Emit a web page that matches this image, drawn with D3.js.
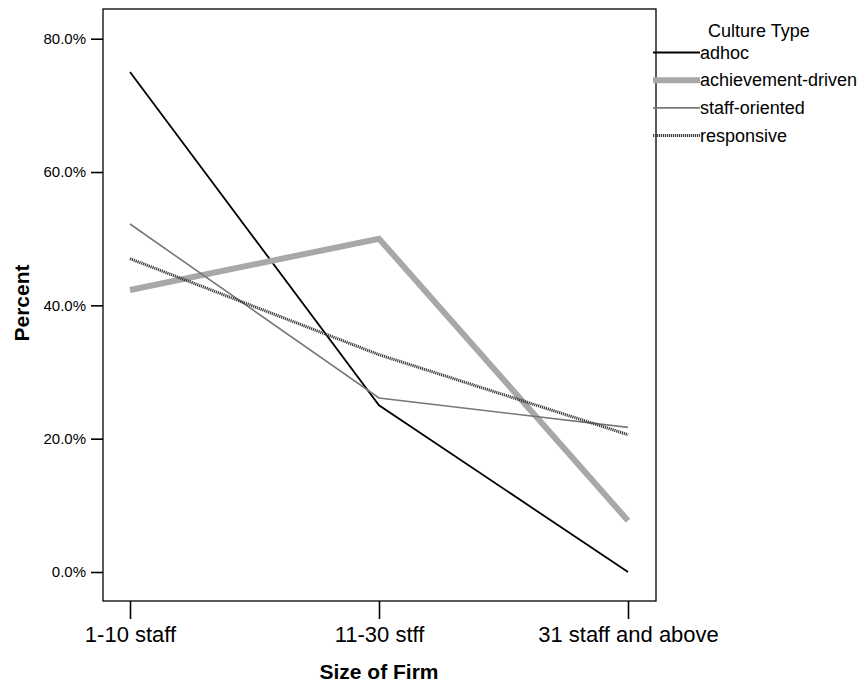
<!doctype html>
<html>
<head>
<meta charset="utf-8">
<title>Culture Type by Size of Firm</title>
<script src="https://cdnjs.cloudflare.com/ajax/libs/d3/7.8.5/d3.min.js"></script>
<style>
  body { margin: 0; background: #fff; }
  svg text { font-family: "Liberation Sans", Arial, sans-serif; fill: #000; }
</style>
</head>
<body>
<div id="chart-area"></div>
<script>
// Data
var sizes = ["1-10 staff", "11-30 stff", "31 staff and above"];
var cultureTypes = ["adhoc", "achievement-driven", "staff-oriented", "responsive"];
var adhoc = [75.0, 25.0, 0.0];
var achievementDriven = [42.3, 50.0, 7.7];
var staffOriented = [52.2, 26.1, 21.7];
var responsive = [47.0, 32.6, 20.6];
var yTicks = [0, 20, 40, 60, 80];

var seriesValues = [adhoc, achievementDriven, staffOriented, responsive];

// Line styles per culture type
var styles = {
  "adhoc": { stroke: "#000", width: 1.8, dash: null },
  "achievement-driven": { stroke: "#a8a8a8", width: 6, dash: null },
  "staff-oriented": { stroke: "#777", width: 1.6, dash: null },
  "responsive": { stroke: "#3c3c3c", width: 3, dash: "1.2,0.8" }
};

var W = 867, H = 685;
var box = { left: 103, right: 656, top: 9, bottom: 601 };

var svg = d3.select("#chart-area").append("svg")
  .attr("width", W)
  .attr("height", H);

// Scales
var x = d3.scalePoint().domain(sizes).range([130, 628]);
var y = d3.scaleLinear().domain([0, 80]).range([572, 38.7]);

// Plot frame
svg.append("rect")
  .attr("x", box.left)
  .attr("y", box.top)
  .attr("width", box.right - box.left)
  .attr("height", box.bottom - box.top)
  .attr("fill", "none")
  .attr("stroke", "#000")
  .attr("stroke-width", 1.3);

// Y axis
var yAxis = svg.append("g")
  .attr("transform", "translate(" + box.left + ",0)")
  .call(d3.axisLeft(y).tickValues(yTicks).tickSize(12).tickPadding(5)
    .tickFormat(function(d) { return d.toFixed(1) + "%"; }));
yAxis.select(".domain").remove();
yAxis.selectAll("line").attr("stroke-width", 1.6);
yAxis.selectAll("text")
  .attr("font-size", "15px")
  .attr("font-family", "Liberation Sans, Arial, sans-serif");

// X axis
var xAxis = svg.append("g")
  .attr("transform", "translate(0," + box.bottom + ")")
  .call(d3.axisBottom(x).tickSize(18).tickPadding(7));
xAxis.select(".domain").remove();
xAxis.selectAll("line").attr("stroke-width", 1.6);
xAxis.selectAll("text")
  .attr("font-size", "22px")
  .attr("font-family", "Liberation Sans, Arial, sans-serif");

// Axis titles
svg.append("text")
  .attr("transform", "translate(29,303) rotate(-90)")
  .attr("text-anchor", "middle")
  .attr("font-size", "21px")
  .attr("font-weight", "bold")
  .text("Percent");

svg.append("text")
  .attr("x", 379)
  .attr("y", 679)
  .attr("text-anchor", "middle")
  .attr("font-size", "21px")
  .attr("font-weight", "bold")
  .text("Size of Firm");

// Lines
var line = d3.line()
  .x(function(d, i) { return x(sizes[i]); })
  .y(function(d) { return y(d); });

cultureTypes.forEach(function(name, i) {
  var s = styles[name];
  svg.append("path")
    .attr("fill", "none")
    .attr("stroke", s.stroke)
    .attr("stroke-width", s.width)
    .attr("stroke-dasharray", s.dash)
    .attr("stroke-linejoin", "miter")
    .attr("d", line(seriesValues[i]));
});

// Legend
var legend = svg.append("g").attr("transform", "translate(653,0)");
legend.append("text")
  .attr("x", 55)
  .attr("y", 37)
  .attr("font-size", "18px")
  .text("Culture Type");

cultureTypes.forEach(function(name, i) {
  var s = styles[name];
  var ly = 52.5 + i * 27.7;
  legend.append("line")
    .attr("x1", 0).attr("x2", 47)
    .attr("y1", ly).attr("y2", ly)
    .attr("stroke", s.stroke)
    .attr("stroke-width", s.width)
    .attr("stroke-dasharray", s.dash);
  legend.append("text")
    .attr("x", 47)
    .attr("y", ly + 6)
    .attr("font-size", "18px")
    .text(name);
});
</script>
</body>
</html>
